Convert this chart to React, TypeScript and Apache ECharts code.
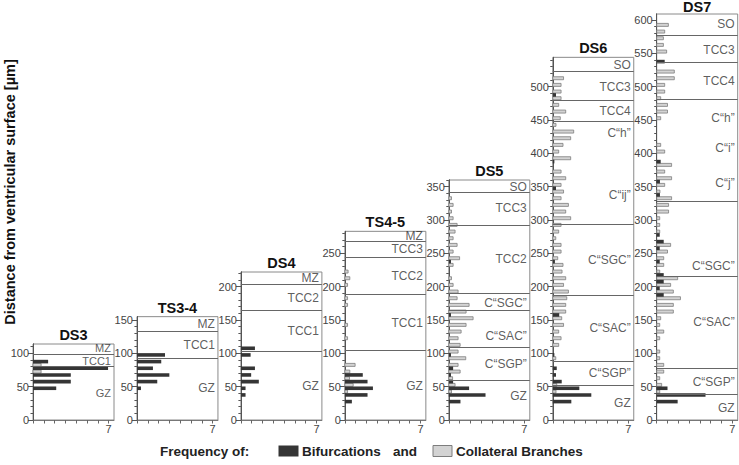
import React, { useEffect, useRef } from "react";
import * as echarts from "echarts";

// ---------- data ----------
const panelNames = ["DS3", "TS3-4", "DS4", "TS4-5", "DS5", "DS6", "DS7"];
const panelMax = [114, 155, 222, 283, 360, 544, 609]; // µm

// [bin start (µm), frequency]
const ds3Bif = [[40, 2.15], [50, 3.5], [60, 3.5], [70, 6.95], [80, 1.4]];
const ds3Col = [[70, 0.75], [80, 0.75]];

const ts34Bif = [[40, 0.37], [50, 1.88], [60, 3.0], [70, 1.48], [80, 2.25], [90, 2.6]];
const ts34Col: number[][] = [];

const ds4Bif = [[30, 0.43], [40, 0.43], [50, 1.66], [60, 0.95], [70, 1.3], [90, 0.9], [100, 1.3]];
const ds4Col: number[][] = [];

const ts45Bif = [[20, 0.65], [30, 2.1], [40, 2.6], [50, 2.1], [60, 1.66]];
const ts45Col = [[40, 0.25], [50, 0.77], [60, 0.43], [70, 0.46], [80, 0.95], [120, 0.25], [140, 0.25], [170, 0.25], [180, 0.25], [200, 0.25], [210, 0.46], [220, 0.3]];

const ds5Bif = [[20, 1.08], [30, 3.4], [40, 1.88], [50, 0.4], [60, 0.2], [70, 0.4], [90, 0.2], [150, 0.2], [230, 0.2]];
const ds5Col = [[40, 0.25], [50, 0.58], [60, 0.35], [70, 1.05], [80, 0.86], [90, 1.57], [100, 0.86], [110, 1.05], [120, 0.86], [130, 1.14], [140, 1.6], [150, 2.25], [160, 1.6], [170, 1.88], [180, 0.77], [190, 0.86], [200, 0.4], [210, 0.25], [230, 0.4], [240, 1.0], [250, 0.4], [260, 0.77], [270, 0.4], [280, 0.58], [290, 0.77], [300, 0.4], [310, 0.25], [320, 0.4], [330, 0.25]];

const ds6Bif = [[20, 1.72], [30, 3.57], [40, 2.46], [50, 0.83], [60, 0.3], [70, 0.37], [90, 0.15], [150, 0.6], [230, 0.2], [340, 0.3], [380, 0.15], [480, 0.3]];
const ds6Col = [[40, 0.3], [50, 0.37], [90, 0.28], [110, 0.55], [120, 0.77], [130, 0.55], [140, 1.0], [150, 0.83], [160, 1.2], [170, 1.2], [180, 1.3], [190, 1.45], [200, 1.0], [210, 1.2], [220, 0.86], [230, 0.95], [240, 0.46], [250, 0.77], [260, 0.77], [270, 0.28], [280, 0.55], [290, 0.77], [300, 1.66], [310, 1.2], [320, 1.45], [330, 0.77], [340, 1.0], [350, 0.77], [360, 1.2], [370, 0.77], [390, 1.66], [400, 0.55], [410, 0.95], [420, 1.66], [430, 1.94], [440, 0.3], [450, 0.7], [460, 1.2], [470, 0.55], [480, 0.77], [490, 0.77], [500, 0.77], [510, 1.0]];

const ds7Bif = [[20, 1.94], [30, 4.52], [40, 1.0], [180, 0.65], [190, 0.28], [200, 0.65], [210, 0.65], [230, 0.28], [250, 0.28], [260, 0.65], [270, 0.28], [330, 0.3], [350, 0.3], [380, 0.37], [530, 0.74]];
const ds7Col = [[40, 0.28], [50, 0.46], [60, 0.28], [70, 0.65], [80, 0.65], [90, 0.28], [100, 0.28], [120, 0.28], [130, 0.65], [140, 0.28], [150, 0.37], [160, 1.54], [170, 1.54], [180, 2.2], [190, 1.54], [200, 1.29], [210, 1.94], [220, 0.28], [230, 0.65], [240, 0.65], [250, 1.0], [260, 1.29], [280, 0.28], [290, 0.28], [300, 0.28], [310, 1.1], [320, 1.1], [330, 1.38], [340, 0.3], [350, 0.74], [360, 1.38], [370, 0.74], [380, 1.38], [400, 0.74], [410, 0.37], [450, 0.37], [460, 1.0], [470, 1.0], [480, 0.37], [490, 0.74], [500, 0.74], [510, 1.63], [520, 1.63], [550, 0.92], [560, 0.62], [570, 0.62], [580, 0.74], [590, 1.08]];

const bifurcations = [ds3Bif, ts34Bif, ds4Bif, ts45Bif, ds5Bif, ds6Bif, ds7Bif];
const collaterals = [ds3Col, ts34Col, ds4Col, ts45Col, ds5Col, ds6Col, ds7Col];

// zone boundary lines (µm)
const zoneLines = [
  [80.5, 98.5],
  [93, 133],
  [103.5, 164, 204],
  [104, 189, 244, 268.5],
  [60, 109.5, 164.5, 190, 292.5, 341],
  [52.5, 88.5, 187.5, 293.5, 447.5, 480, 522.5],
  [39, 77, 216, 327.5, 481.5, 536, 577.5],
];

// zone labels: [name, depth µm]
const zoneLabels: [string, number][][] = [
  [["MZ", 108], ["TCC1", 88], ["GZ", 40]],
  [["MZ", 144], ["TCC1", 112.5], ["GZ", 47.5]],
  [["MZ", 212.5], ["TCC2", 183.5], ["TCC1", 133.5], ["GZ", 51.5]],
  [["MZ", 276], ["TCC3", 256], ["TCC2", 216], ["TCC1", 146], ["GZ", 51]],
  [["SO", 350], ["TCC3", 317.5], ["TCC2", 241], ["C“SGC”", 175], ["C“SAC”", 126], ["C“SGP”", 83.5], ["GZ", 36]],
  [["SO", 532.5], ["TCC3", 500], ["TCC4", 463.5], ["C“h”", 431], ["C“ij”", 337.5], ["C“SGC”", 240], ["C“SAC”", 137.5], ["C“SGP”", 70], ["GZ", 26]],
  [["SO", 594], ["TCC3", 555], ["TCC4", 508.5], ["C“h”", 452.5], ["C“i”", 407.5], ["C“j”", 356], ["C“SGC”", 231], ["C“SAC”", 147.5], ["C“SGP”", 57.5], ["GZ", 18]],
];

const xMax = 7.5;
const xTicks = [0, 1, 2, 3, 4, 5, 6, 7];
const xTickLabels = [7];
const yMinorStep = 10;
const yMajorStep = 50;

const yAxisTitle = "Distance from ventricular surface [µm]";
const legendLead = "Frequency of:";
const bifName = "Bifurcations";
const colName = "Collateral Branches";

// ---------- layout / style ----------
const FONT = "Arial, 'Liberation Sans', Helvetica, sans-serif";
const PLOT_BOTTOM = 420;
const PX_PER_UM = 400 / 600;
const LEFT0 = 33;
const STEP = 103.95;
const PANEL_W = 81;
const DARK = "#353535";
const LIGHT = "#d3d3d3";
const LIGHT_STROKE = "#7d7d7d";

function range(step: number, max: number) {
  const out: number[] = [];
  for (let v = 0; v <= max + 1e-9; v += step) out.push(v);
  return out;
}

function barRenderer(lo: number, hi: number, fill: string, stroke: string | null) {
  return (params: any, api: any) => {
    const d = api.value(0);
    const v = api.value(1);
    const p0 = api.coord([0, d + lo]);
    const p1 = api.coord([v, d + hi]);
    return {
      type: "rect",
      shape: { x: p0[0], y: p1[1], width: p1[0] - p0[0], height: p0[1] - p1[1] },
      style: { fill, stroke: stroke || undefined, lineWidth: stroke ? 0.8 : 0 },
    };
  };
}

function buildOption() {
  const grid: any[] = [];
  const xAxis: any[] = [];
  const yAxis: any[] = [];
  const series: any[] = [];
  const graphic: any[] = [];

  panelNames.forEach((name, i) => {
    const max = panelMax[i];
    const h = max * PX_PER_UM;
    const top = PLOT_BOTTOM - h;
    const left = LEFT0 + i * STEP;
    grid.push({ left, top, width: PANEL_W, height: h, show: true, borderColor: "#8a8a8a", borderWidth: 1, backgroundColor: "transparent" });

    xAxis.push({
      type: "value", gridIndex: i, min: 0, max: xMax,
      axisLine: { show: true, lineStyle: { color: "#777" } },
      axisTick: { show: true, length: 3.5, customValues: xTicks, lineStyle: { color: "#666" } },
      axisLabel: { show: true, customValues: xTickLabels, fontSize: 11, color: "#444", fontFamily: FONT, margin: 3 },
      splitLine: { show: false },
    });

    const minor = range(yMinorStep, max);
    const major = range(yMajorStep, max);
    yAxis.push({
      type: "value", gridIndex: i, min: 0, max, position: "left",
      axisLine: { show: true, onZero: false, lineStyle: { color: "#555" } },
      axisTick: { show: true, length: 2.5, customValues: minor, lineStyle: { color: "#555" } },
      axisLabel: { show: false },
      splitLine: { show: false },
    });
    yAxis.push({
      type: "value", gridIndex: i, min: 0, max, position: "left", offset: 0,
      axisLine: { show: true, onZero: false, lineStyle: { color: "#555" } },
      axisTick: { show: true, length: 5, customValues: major, lineStyle: { color: "#555" } },
      axisLabel: { show: true, customValues: major, fontSize: 11, color: "#444", fontFamily: FONT, margin: 4 },
      splitLine: { show: false },
    });

    series.push({
      type: "custom", name: colName, xAxisIndex: i, yAxisIndex: 2 * i,
      data: collaterals[i], encode: { x: 1, y: 0 },
      renderItem: barRenderer(0.4, 4.9, LIGHT, LIGHT_STROKE),
      itemStyle: { color: LIGHT }, z: 2, silent: true,
    });
    series.push({
      type: "custom", name: bifName, xAxisIndex: i, yAxisIndex: 2 * i,
      data: bifurcations[i], encode: { x: 1, y: 0 },
      renderItem: barRenderer(4.9, 10.3, DARK, null),
      itemStyle: { color: DARK }, z: 3, silent: true,
      markLine: {
        silent: true, symbol: ["none", "none"], animation: false,
        label: { show: false },
        lineStyle: { color: "#666", width: 1, type: "solid" },
        data: zoneLines[i].map((v) => ({ yAxis: v })),
      },
    });
    const labelSize = i === 0 ? 11 : 12;
    series.push({
      type: "scatter", xAxisIndex: i, yAxisIndex: 2 * i, symbolSize: 0, silent: true, clip: false,
      data: zoneLabels[i].map(([n, d]) => ({ name: n, value: [xMax, d] })),
      label: { show: true, position: "left", distance: 3, formatter: "{b}", fontSize: labelSize, lineHeight: labelSize, color: "#333", fontFamily: FONT },
      z: 4,
    });

    graphic.push({
      type: "text", x: left + PANEL_W / 2, y: Math.max(top - 9, 7),
      style: { text: name, font: `bold 14.5px ${FONT}`, fill: "#111", align: "center", verticalAlign: "middle", textAlign: "center", textVerticalAlign: "middle" },
    });
  });

  graphic.push({
    type: "text", x: 9.5, y: 192, rotation: Math.PI / 2,
    style: { text: yAxisTitle, font: `bold 14.5px ${FONT}`, fill: "#111", align: "center", verticalAlign: "middle", textAlign: "center", textVerticalAlign: "middle" },
  });

  const ly = 451;
  const lt = (text: string, x: number) => ({
    type: "text", x, y: ly,
    style: { text, font: `bold 13.5px ${FONT}`, fill: "#222", align: "left", verticalAlign: "middle", textAlign: "left", textVerticalAlign: "middle" },
  });
  graphic.push(lt(legendLead, 160));
  graphic.push({ type: "rect", shape: { x: 278.5, y: ly - 5.5, width: 20, height: 11 }, style: { fill: DARK } });
  graphic.push(lt(bifName, 302));
  graphic.push(lt("and", 393));
  graphic.push({ type: "rect", shape: { x: 433, y: ly - 5.5, width: 19, height: 11 }, style: { fill: LIGHT, stroke: LIGHT_STROKE, lineWidth: 1 } });
  graphic.push(lt(colName, 456));

  return {
    animation: false,
    backgroundColor: "#ffffff",
    textStyle: { fontFamily: FONT },
    grid, xAxis, yAxis, series, graphic,
  };
}

export default function App() {
  const ref = useRef<HTMLDivElement>(null);
  useEffect(() => {
    if (!ref.current) return;
    const chart = echarts.init(ref.current, null, { renderer: "svg" });
    chart.setOption(buildOption() as any);
    return () => chart.dispose();
  }, []);
  return <div ref={ref} style={{ position: "absolute", left: 0, top: 0, width: 739, height: 465 }} />;
}
